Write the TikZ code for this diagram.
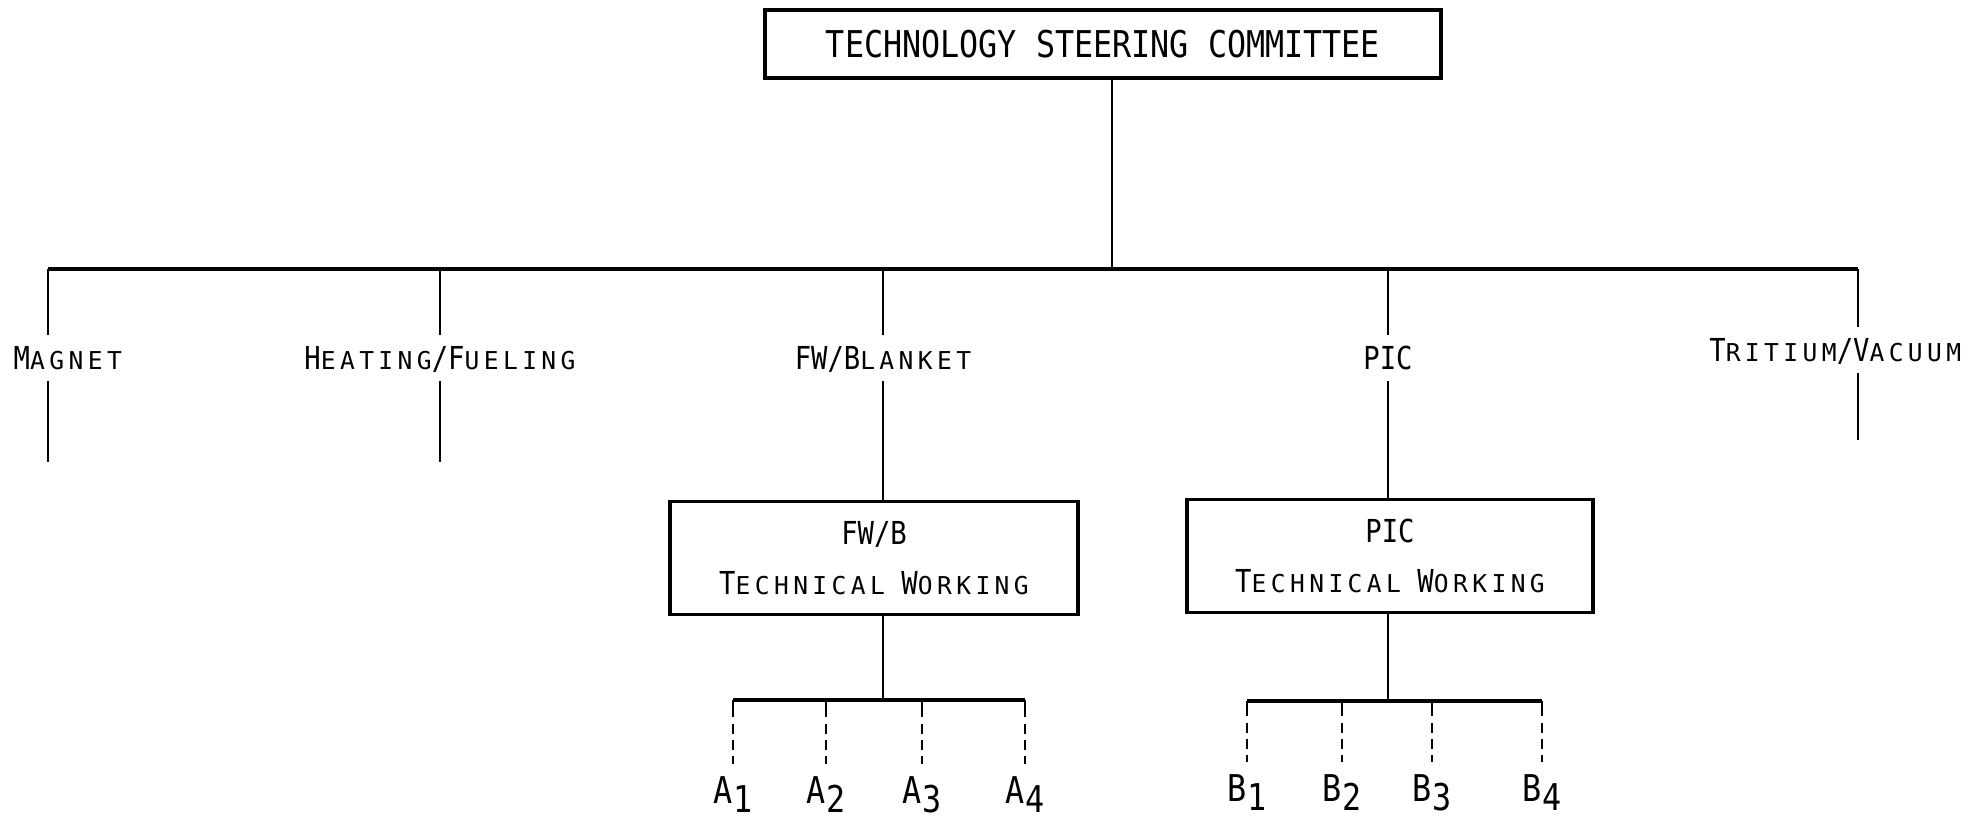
\documentclass[tikz,border=0pt]{standalone}
\usepackage{fontspec}
\usetikzlibrary{positioning}
\newfontfamily\capfont[FakeStretch=0.86]{DejaVu Sans Mono}
\newfontfamily\scfont[LetterSpace=18]{DejaVu Sans Mono}
\newcommand\capsc[2]{#1{\scfont\fontsize{7pt}{8pt}\selectfont #2}}
\newcommand\lowsub[1]{\raisebox{-2.4pt}{#1}}

\begin{document}
\begin{tikzpicture}[x=0.1mm, y=-0.1mm,
    box/.style={draw, line width=0.9pt, inner sep=0pt, align=center,
                font=\capfont\fontsize{9pt}{14.2pt}\selectfont},
    lab/.style={inner xsep=0pt, inner ysep=3pt, text height=6.6pt, text depth=0pt,
                font=\capfont\fontsize{9pt}{11pt}\selectfont},
    leaf/.style={inner sep=0pt, anchor=north, text height=7.7pt, text depth=3pt,
                 font=\capfont\fontsize{10.5pt}{12pt}\selectfont},
    stem/.style={line width=0.7pt},
    bar/.style={line width=0.9pt},
    stub/.style={line width=0.8pt, dash pattern=on 2.8pt off 1.8pt}]
  \useasboundingbox (0,0) rectangle (1987,821);
  \node[box, minimum width=67.6mm, minimum height=6.8mm,
        font=\capfont\fontsize{10.5pt}{12pt}\selectfont] (tsc) at (1103,44)
        {TECHNOLOGY STEERING COMMITTEE};
  \coordinate (barL) at (48,269);
  \coordinate (barR) at (1858,269);
  \draw[bar] (barL) -- (barR);
  \draw[stem] ([xshift=0.9mm]tsc.south) -- ([xshift=0.9mm]tsc.south |- barL);
  \node[lab, anchor=west] (mag) at (13,358) {\capsc{M}{AGNET}};
  \node[lab] (heat) at (440,358) {\capsc{H}{EATING}/\capsc{F}{UELING}};
  \node[lab] (fwb) at (883,358) {FW/\capsc{B}{LANKET}};
  \node[lab] (pic) at (1388,358) {PIC};
  \node[lab, anchor=east] (trit) at (1962,350) {\capsc{T}{RITIUM}/\capsc{V}{ACUUM}};
  \coordinate (magEnd) at (48,462);
  \coordinate (heatEnd) at (440,462);
  \coordinate (tritEnd) at (1858,440);
  \draw[stem] (barL) -- (barL |- mag.north);
  \draw[stem] (barL |- mag.south) -- (magEnd);
  \draw[stem] (barR) -- (barR |- trit.north);
  \draw[stem] (barR |- trit.south) -- (tritEnd);
  \draw[stem] (heat.north |- barL) -- (heat.north);
  \draw[stem] (heat.south) -- (heatEnd);
  \draw[stem] (fwb.north |- barL) -- (fwb.north);
  \draw[stem] (pic.north |- barL) -- (pic.north);
  \node[box, minimum width=40.8mm, minimum height=11.3mm] (fwbox) at (874,558)
        {FW/B\\\capsc{T}{ECHNICAL} \capsc{W}{ORKING}};
  \node[box, minimum width=40.6mm, minimum height=11.3mm] (picbox) at (1390,556)
        {PIC\\\capsc{T}{ECHNICAL} \capsc{W}{ORKING}};
  \draw[stem] (fwb.south) -- (fwb.south |- fwbox.north);
  \draw[stem] (pic.south) -- (pic.south |- picbox.north);
  \coordinate (aL) at (733,700);
  \coordinate (aR) at (1025,700);
  \coordinate (bL) at (1247,701);
  \coordinate (bR) at (1542,701);
  \draw[bar] (aL) -- (aR);
  \draw[bar] (bL) -- (bR);
  \draw[stem] (fwb.south |- fwbox.south) -- (fwb.south |- aL);
  \draw[stem] (pic.south |- picbox.south) -- (pic.south |- bL);
  \foreach \x/\i in {733/1, 826/2, 922/3, 1025/4}
    { \coordinate (a\i) at (\x,700);
      \node[leaf] (A\i) at (\x,776) {A\lowsub{\i}};
      \draw[stem] (a\i) -- ++(0,17);
      \draw[stub, shorten >=3.4pt] (a\i) ++(0,24) -- (a\i |- A\i.north); }
  \foreach \x/\i in {1247/1, 1342/2, 1432/3, 1542/4}
    { \coordinate (b\i) at (\x,701);
      \node[leaf] (B\i) at (\x,774) {B\lowsub{\i}};
      \draw[stem] (b\i) -- ++(0,15);
      \draw[stub, shorten >=3.4pt] (b\i) ++(0,22) -- (b\i |- B\i.north); }
\end{tikzpicture}
\end{document}
